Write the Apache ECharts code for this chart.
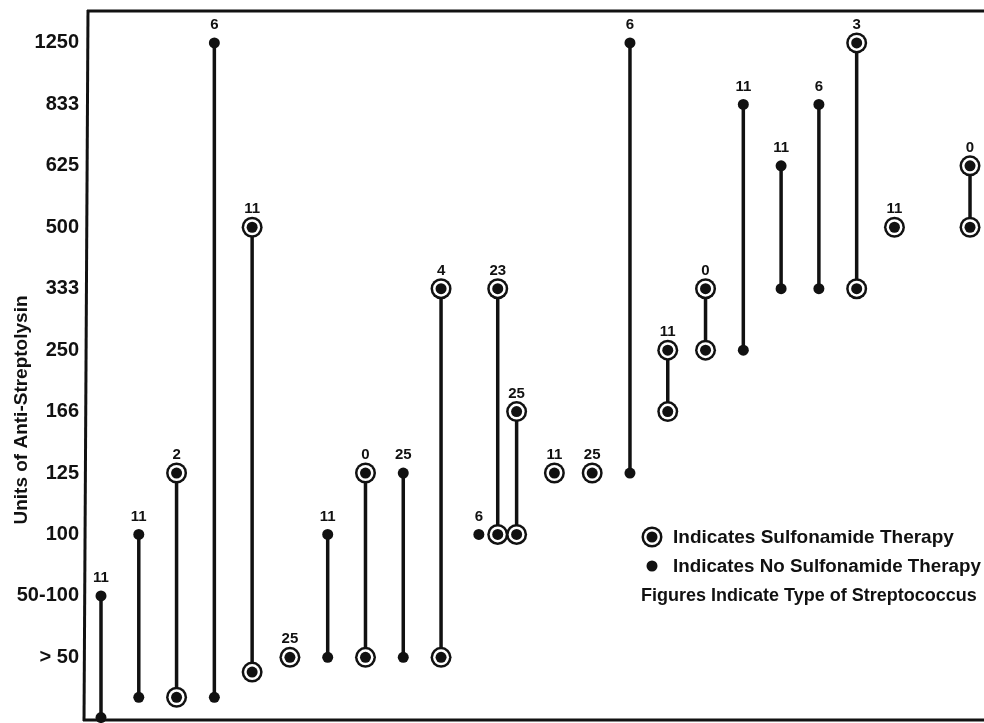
<!DOCTYPE html>
<html><head><meta charset="utf-8">
<script src="https://cdn.jsdelivr.net/npm/echarts@6/dist/echarts.min.js"></script>
<style>html,body{margin:0;padding:0;background:#fff}#c{width:984px;height:723px}</style>
</head><body><div id="c"></div>
<script>
// Y-axis levels (units of anti-streptolysin), index 0 = "> 50"
const levelLabels = ['> 50','50-100','100','125','166','250','333','500','625','833','1250'];
// Case column positions (slot units)
const caseX = [0,1,2,3,4,5,6,7,8,9,10,10.5,11,12,13,14,15,16,17,18,19,20,21,23];
// Streptococcus type shown above each case
const streptoType = ['11','11','2','6','11','25','11','0','25','4','6','23','25','11','25','6','11','0','11','11','6','3','11','0'];
// 1 = sulfonamide therapy (ringed marker), 0 = no sulfonamide (plain dot)
const sulfonamide = [0,0,1,0,1,1,0,1,0,1,0,1,1,1,1,0,1,1,0,0,0,1,1,1];
// Highest titre level (level index)
const highLevel = [1,2,3,10,7,0,2,3,3,6,2,6,4,3,3,10,5,6,9,8,9,10,7,8];
// Lowest titre level (level index; null = single determination)
const lowLevel = [-0.98,-0.65,-0.65,-0.65,-0.24,null,0,0,0,0,null,2,2,null,null,3,4,5,5,6,6,6,null,7];

const data = caseX.map((x, i) => [x, highLevel[i], lowLevel[i] == null ? highLevel[i] : lowLevel[i]]);
const INK = '#111';
const FONT = '"Liberation Sans", Arial, sans-serif';

function marker(children, p, ringed) {
  if (ringed) {
    children.push({type: 'circle', shape: {cx: p[0], cy: p[1], r: 10.5}, style: {fill: INK}});
    children.push({type: 'circle', shape: {cx: p[0], cy: p[1], r: 8}, style: {fill: '#fff'}});
    children.push({type: 'circle', shape: {cx: p[0], cy: p[1], r: 5.5}, style: {fill: INK}});
  } else {
    children.push({type: 'circle', shape: {cx: p[0], cy: p[1], r: 5.5}, style: {fill: INK}});
  }
}

function renderItem(params, api) {
  const i = params.dataIndex;
  const x = api.value(0), hi = api.value(1), lo = api.value(2);
  const pHi = api.coord([x, hi]);
  const pLo = api.coord([x, lo]);
  const children = [];
  if (lo !== hi) {
    children.push({type: 'line', shape: {x1: pHi[0], y1: pHi[1], x2: pLo[0], y2: pLo[1]},
      style: {stroke: INK, lineWidth: 3.5}});
    marker(children, pLo, sulfonamide[i]);
  }
  marker(children, pHi, sulfonamide[i]);
  children.push({type: 'text', x: pHi[0], y: pHi[1] - 18,
    style: {text: streptoType[i], align: 'center', verticalAlign: 'middle',
      font: 'bold 15px ' + FONT, fill: INK}});
  return {type: 'group', children};
}

const chart = echarts.init(document.getElementById('c'));
chart.setOption({
  backgroundColor: '#fff',
  animation: false,
  grid: {left: 86, top: 11, right: 0, bottom: 3, show: false},
  xAxis: {type: 'value', min: -0.397, max: 23.37, show: false},
  yAxis: {
    type: 'value', min: -1.02, max: 10.52,
    axisLine: {show: false}, axisTick: {show: false}, splitLine: {show: false},
    axisLabel: {
      customValues: [0,1,2,3,4,5,6,7,8,9,10],
      formatter: v => levelLabels[Math.round(v)] || '',
      color: INK, fontSize: 20, fontWeight: 'bold', fontFamily: FONT, margin: 7
    }
  },
  series: [{
    type: 'custom',
    renderItem,
    data,
    encode: {x: 0, y: [1, 2]},
    clip: false
  }],
  graphic: [
    {type: 'line', shape: {x1: 88, y1: 10, x2: 84, y2: 721}, style: {stroke: INK, lineWidth: 3}},
    {type: 'line', shape: {x1: 87, y1: 11, x2: 984, y2: 11}, style: {stroke: INK, lineWidth: 3}},
    {type: 'line', shape: {x1: 83, y1: 720, x2: 984, y2: 720}, style: {stroke: INK, lineWidth: 3}},
    {type: 'text', x: 22, y: 410, rotation: Math.PI / 2,
      style: {text: 'Units of Anti-Streptolysin', align: 'center', verticalAlign: 'middle',
        font: 'bold 19px ' + FONT, fill: INK}},
    {type: 'circle', shape: {cx: 652, cy: 537, r: 10.5}, style: {fill: INK}},
    {type: 'circle', shape: {cx: 652, cy: 537, r: 8}, style: {fill: '#fff'}},
    {type: 'circle', shape: {cx: 652, cy: 537, r: 5.5}, style: {fill: INK}},
    {type: 'circle', shape: {cx: 652, cy: 566, r: 5.5}, style: {fill: INK}},
    {type: 'text', x: 673, y: 538, style: {text: 'Indicates Sulfonamide Therapy', verticalAlign: 'middle',
      font: 'bold 19px ' + FONT, fill: INK}},
    {type: 'text', x: 673, y: 567, style: {text: 'Indicates No Sulfonamide Therapy', verticalAlign: 'middle',
      font: 'bold 18.8px ' + FONT, fill: INK}},
    {type: 'text', x: 641, y: 596, style: {text: 'Figures Indicate Type of Streptococcus', verticalAlign: 'middle',
      font: 'bold 18px ' + FONT, fill: INK}}
  ]
});
</script>
</body></html>
